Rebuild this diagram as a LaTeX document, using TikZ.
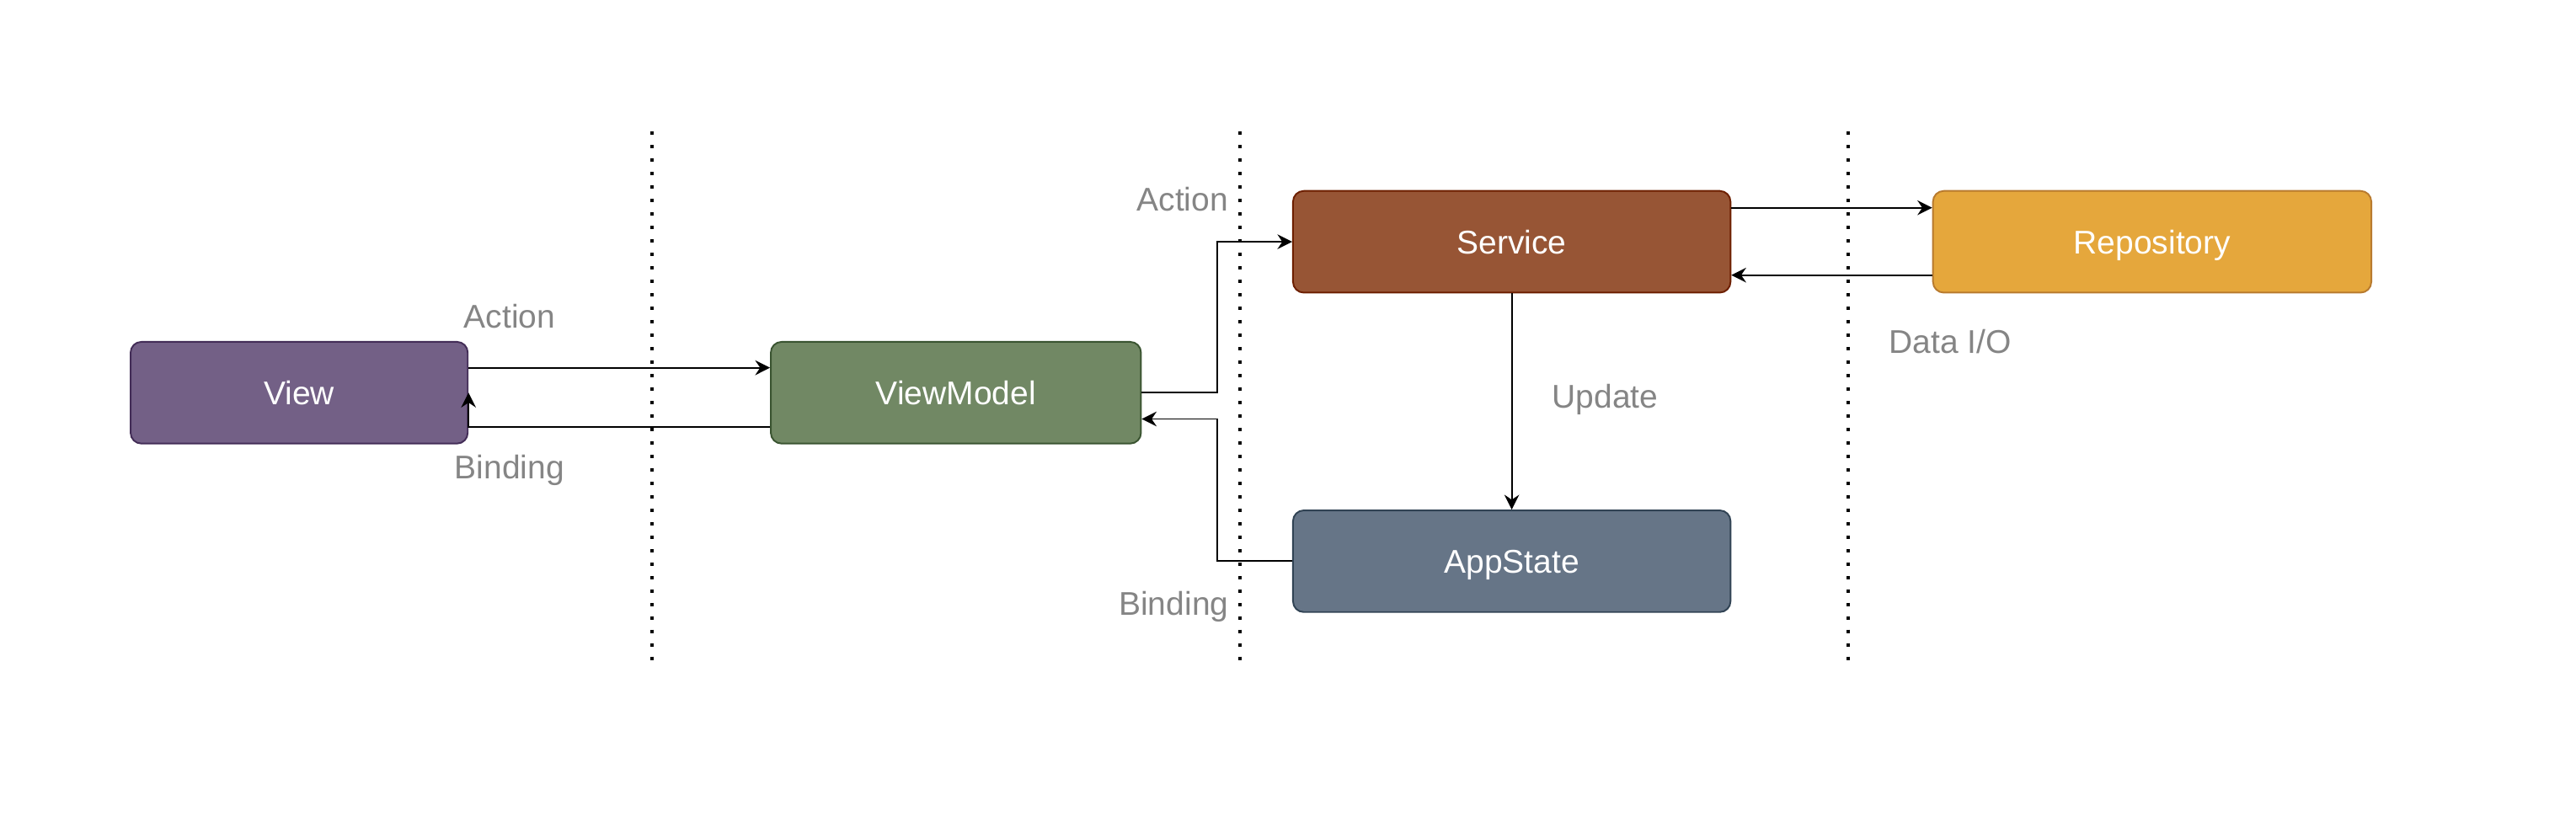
\documentclass[tikz,border=0pt]{standalone}
\usepackage{fontspec}
\setmainfont{Liberation Sans}
\usetikzlibrary{arrows.meta}
\definecolor{viewfill}{HTML}{736086}
\definecolor{viewline}{HTML}{432D57}
\definecolor{vmfill}{HTML}{718864}
\definecolor{vmline}{HTML}{3A5431}
\definecolor{svcfill}{HTML}{975535}
\definecolor{svcline}{HTML}{6D1F00}
\definecolor{repofill}{HTML}{E5A73C}
\definecolor{repoline}{HTML}{B87A2E}
\definecolor{statefill}{HTML}{667587}
\definecolor{stateline}{HTML}{314354}
\definecolor{labelgray}{HTML}{858585}
\tikzset{
  box/.style={draw, line width=1pt, rounded corners=6.5pt, inner sep=0pt,
    minimum height=61.9pt, text height=14.3pt, text depth=0pt,
    text=white, font=\fontsize{20}{24}\selectfont},
  arr/.style={draw, line width=1pt, -{Stealth[length=9pt,width=9pt,inset=3pt]}},
  sep/.style={draw, line width=2pt, dash pattern=on 2pt off 6.2pt},
  lbl/.style={text=labelgray, inner sep=0pt, font=\fontsize{20}{24}\selectfont}
}
\begin{document}
\begin{tikzpicture}[x=1pt,y=-1pt]
\useasboundingbox (0,0) rectangle (1568,503.5);
% separators
\coordinate (s1t) at (396.9,80); \coordinate (s1b) at (396.9,403);
\coordinate (s2t) at (754.8,80); \coordinate (s2b) at (754.8,403);
\coordinate (s3t) at (1125,80);  \coordinate (s3b) at (1125,403);
\draw[sep] (s1t) -- (s1b);
\draw[sep] (s2t) -- (s2b);
\draw[sep] (s3t) -- (s3b);
% nodes
\node[box, fill=viewfill, draw=viewline, minimum width=205.2pt] (view) at (182.1,239.1) {View};
\node[box, fill=vmfill, draw=vmline, minimum width=225.3pt] (vm) at (581.85,239.1) {ViewModel};
\node[box, fill=svcfill, draw=svcline, minimum width=266.3pt] (svc) at (920.2,147.2) {Service};
\node[box, fill=repofill, draw=repoline, minimum width=266.8pt] (repo) at (1310,147.2) {Repository};
\node[box, fill=statefill, draw=stateline, minimum width=266.3pt] (state) at (920.2,341.7) {AppState};
% connectors
\draw[arr] ([yshift=15.2pt]view.east) -- ([yshift=15.2pt]vm.west);
\draw[arr] ([yshift=-20.7pt]vm.west) -| (view.east);
\coordinate (c1) at (740.8,0);
\draw[arr] (vm.east) -- (vm.east -| c1) |- (svc.west);
\draw[arr] (state.west) -- (state.west -| c1) |- ([yshift=-16pt]vm.east);
\draw[arr] (svc.south) -- (state.north);
\draw[arr] ([yshift=20.7pt]svc.east) -- ([yshift=20.7pt]repo.west);
\draw[arr] ([yshift=-20.3pt]repo.west) -- ([yshift=-20.3pt]svc.east);
% labels
\node[lbl, anchor=base] (l1) at (310.3,199.6) {Action};
\node[lbl, anchor=base] (l2) at (310.2,291.5) {Binding};
\node[lbl, anchor=base east] (l3) at (747.8,128.2) {Action};
\node[lbl, anchor=base east] (l4) at (748,374.4) {Binding};
\node[lbl, anchor=base] (l5) at (977,248.5) {Update};
\node[lbl, anchor=base] (l6) at (1187,215) {Data I/O};
\end{tikzpicture}
\end{document}
